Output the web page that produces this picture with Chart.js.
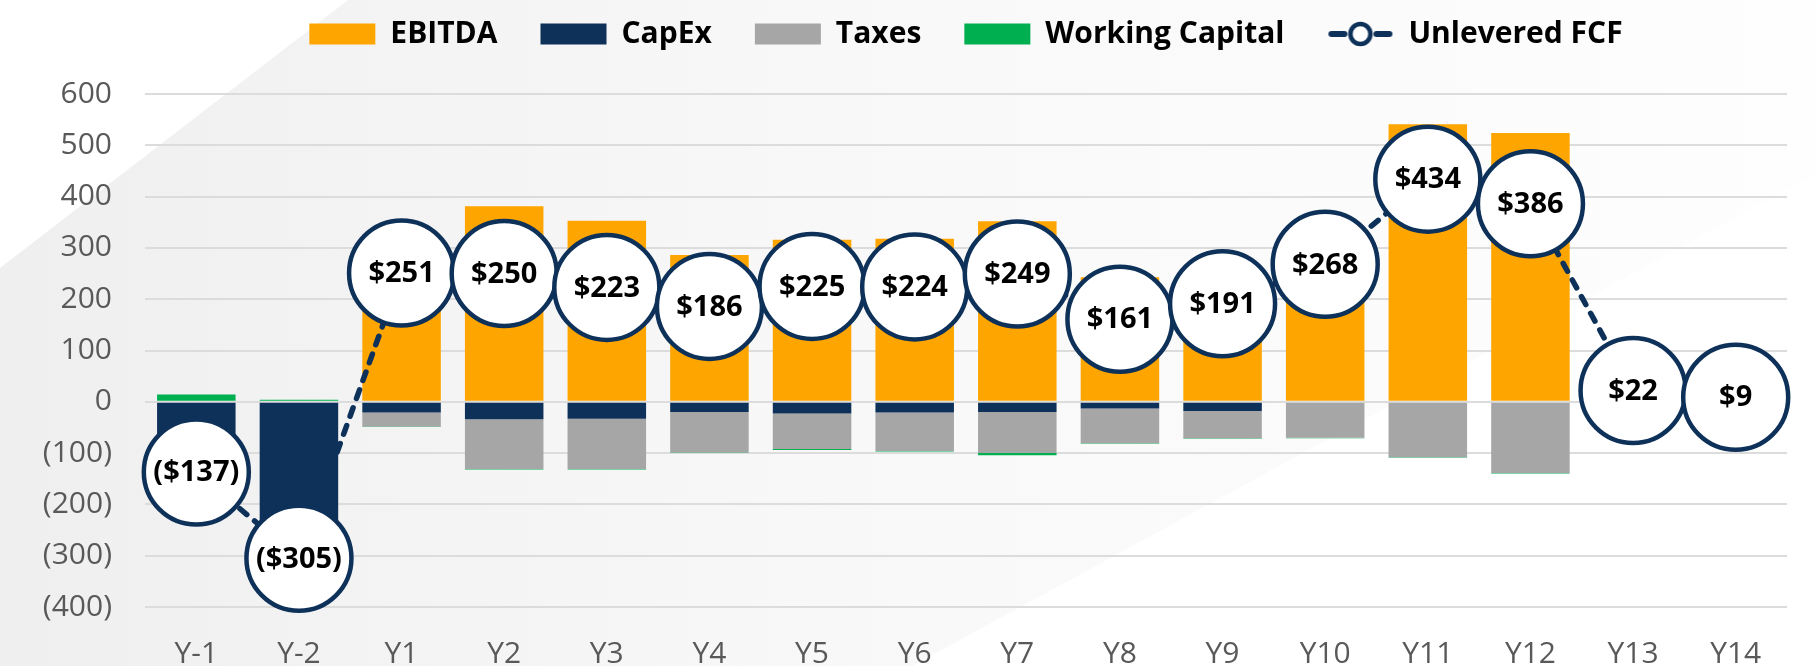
<!DOCTYPE html>
<html>
<head>
<meta charset="utf-8">
<script src="https://cdn.jsdelivr.net/npm/chart.js@4.4.1/dist/chart.umd.min.js"></script>
<style>
  html, body { margin: 0; padding: 0; background: #fff; }
  #wrap { width: 1817px; height: 666px; position: relative; }
</style>
</head>
<body>
<div id="wrap"><canvas id="fcf-chart"></canvas></div>
<script>
// values (in $)
const years = ['Y-1', 'Y-2', 'Y1', 'Y2', 'Y3', 'Y4', 'Y5', 'Y6', 'Y7', 'Y8', 'Y9', 'Y10', 'Y11', 'Y12', 'Y13', 'Y14'];
const ebitda = [0, 0, 300, 381, 353, 286, 316, 318, 352, 243, 263, 339, 541, 524, null, null];
const capex = [-151, -309, -21, -34, -33, -20, -23, -21, -20, -13, -18, 0, 0, 0, null, null];
const taxes = [0, 0, -27, -97, -98, -79, -69, -75, -80, -68, -53, -70, -108, -139, null, null];
const workingCapital = [14, 4, -1, -1, -1, -1, -2, -1, -4, -1, -1, -1, -1, -1, null, null];
const unleveredFcf = [-137, -305, 251, 250, 223, 186, 225, 224, 249, 161, 191, 268, 434, 386, 22, 9];

const ORANGE = '#FFA500';
const NAVY = '#0E315A';
const GREY = '#A6A6A6';
const GREEN = '#00B050';
const AXIS_GREY = '#595959';

const money = v => v < 0 ? '($' + (-v) + ')' : '$' + v;
const axisNum = v => v < 0 ? '(' + (-v) + ')' : String(v);

// legend marker for the FCF line: dash - circle - dash
const fcfIcon = document.createElement('canvas');
fcfIcon.width = 66;
fcfIcon.height = 28;
(function () {
  const c = fcfIcon.getContext('2d');
  c.strokeStyle = NAVY;
  c.lineCap = 'round';
  c.lineWidth = 6;
  c.beginPath(); c.moveTo(4, 14); c.lineTo(17, 14); c.stroke();
  c.beginPath(); c.moveTo(49, 14); c.lineTo(62, 14); c.stroke();
  c.lineWidth = 4.5;
  c.fillStyle = '#fff';
  c.beginPath(); c.arc(33, 14, 10, 0, Math.PI * 2); c.fill(); c.stroke();
})();

const backdrop = {
  id: 'backdrop',
  beforeDraw(chart) {
    const c = chart.ctx, w = chart.width, h = chart.height;
    c.save();
    c.fillStyle = '#fff';
    c.fillRect(0, 0, w, h);
    const g = c.createLinearGradient(0, 0, w, 0);
    g.addColorStop(0, '#efefef');
    g.addColorStop(0.45, '#f8f8f8');
    g.addColorStop(1, '#fefefe');
    c.fillStyle = g;
    c.beginPath();
    c.moveTo(348, 0);
    c.lineTo(w, 0);
    c.lineTo(w, 173);
    c.lineTo(912, h);
    c.lineTo(0, h);
    c.lineTo(0, 268);
    c.closePath();
    c.fill();
    c.restore();
  }
};

const fcfLabels = {
  id: 'fcfLabels',
  afterDatasetsDraw(chart) {
    const meta = chart.getDatasetMeta(4);
    const c = chart.ctx;
    c.save();
    c.font = 'bold 29px "Open Sans"';
    c.fillStyle = '#000';
    c.textAlign = 'center';
    c.textBaseline = 'middle';
    meta.data.forEach((pt, i) => {
      c.fillText(money(unleveredFcf[i]), pt.x, pt.y + 1);
    });
    c.restore();
  }
};

// legend sits higher than its layout box
const legendNudge = {
  id: 'legendNudge',
  afterLayout(chart) {
    chart.legend.top -= 35;
    chart.legend.bottom -= 35;
  }
};

const ctx = document.getElementById('fcf-chart').getContext('2d');

const fcfChart = new Chart(ctx, {
  type: 'bar',
  data: {
    labels: years,
    datasets: [
      { label: 'EBITDA', data: ebitda, backgroundColor: ORANGE, order: 1 },
      { label: 'CapEx', data: capex, backgroundColor: NAVY, order: 1 },
      { label: 'Taxes', data: taxes, backgroundColor: GREY, order: 1 },
      { label: 'Working Capital', data: workingCapital, backgroundColor: GREEN, order: 1 },
      {
        type: 'line',
        label: 'Unlevered FCF',
        data: unleveredFcf,
        stack: 'fcf',
        order: 0,
        clip: false,
        borderColor: NAVY,
        borderWidth: 5.5,
        borderDash: [9, 10],
        borderCapStyle: 'round',
        tension: 0,
        pointRadius: 52.5,
        pointBorderWidth: 4.5,
        pointBackgroundColor: '#fff',
        pointBorderColor: NAVY,
        pointHoverRadius: 52.5
      }
    ]
  },
  options: {
    responsive: true,
    maintainAspectRatio: false,
    animation: false,
    datasets: {
      bar: { barPercentage: 0.765, categoryPercentage: 1, borderWidth: 0 }
    },
    layout: { autoPadding: false, padding: { top: 11, right: 30, left: 0, bottom: 0 } },
    plugins: {
      tooltip: { enabled: false },
      legend: {
        position: 'top',
        fullSize: false,
        labels: {
          usePointStyle: true,
          pointStyleWidth: 66,
          boxHeight: 21,
          padding: 43,
          color: '#000',
          font: { family: 'Open Sans', size: 30, weight: 'bold' },
          sort: (a, b) => a.datasetIndex - b.datasetIndex,
          generateLabels(chart) {
            const items = Chart.defaults.plugins.legend.labels.generateLabels(chart);
            items.forEach(it => {
              it.pointStyle = it.datasetIndex === 4 ? fcfIcon : 'rect';
              it.lineWidth = 0;
            });
            return items;
          }
        }
      }
    },
    scales: {
      x: {
        stacked: true,
        grid: { display: false, drawTicks: false },
        border: { display: false },
        ticks: { color: AXIS_GREY, font: { family: 'Open Sans', size: 30 }, padding: 29 },
        afterFit(s) { s.height = 59; }
      },
      y: {
        stacked: true,
        min: -400,
        max: 600,
        grid: { color: '#dcdcdc', lineWidth: 2, drawTicks: false },
        border: { display: false },
        ticks: {
          stepSize: 100,
          color: AXIS_GREY,
          font: { family: 'Open Sans', size: 30 },
          padding: 33,
          callback: v => axisNum(v)
        },
        afterFit(s) { s.width = 145; }
      }
    }
  },
  plugins: [backdrop, fcfLabels, legendNudge]
});
</script>
</body>
</html>
